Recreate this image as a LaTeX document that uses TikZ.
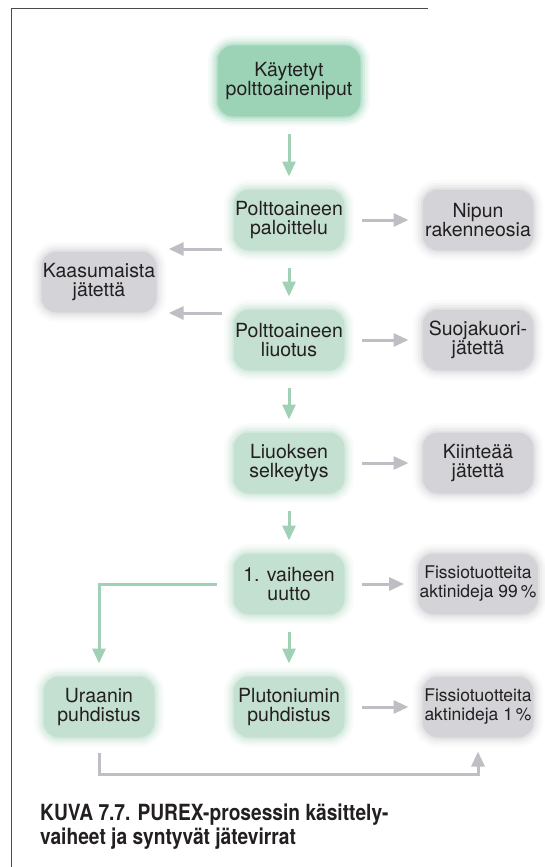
\documentclass[tikz,border=0pt]{standalone}
\usepackage{fontspec}
\setmainfont{TeX Gyre Heros}
\newfontfamily\capfont{TeX Gyre Heros}[FakeStretch=0.86]
\usetikzlibrary{arrows.meta,calc}
\definecolor{gdark}{HTML}{9CD3B7}
\definecolor{glight}{HTML}{C3E0D0}
\definecolor{gbox}{HTML}{D4D4D8}
\definecolor{garrow}{HTML}{A0D0B6}
\definecolor{grarrow}{HTML}{BEBEC4}
\definecolor{framec}{HTML}{4A4A4A}
\definecolor{txt}{HTML}{231F20}
\tikzset{
  glowbox/.style={rounded corners=14pt, minimum width=108pt, minimum height=58pt,
    align=center, inner sep=0pt, text=txt,
    font=\fontsize{19.5}{19.5}\selectfont,
    preaction={draw=#1, line width=22pt, draw opacity=0.10},
    preaction={draw=#1, line width=17pt, draw opacity=0.15},
    preaction={draw=#1, line width=12pt, draw opacity=0.25},
    preaction={draw=#1, line width=7pt, draw opacity=0.4},
    fill=#1, draw=#1, line width=3pt},
  flowg/.style={draw=garrow, line width=3pt, -{Triangle[length=15pt,width=13pt]},
    shorten <=17pt, shorten >=13pt},
  flowr/.style={draw=grarrow, line width=3pt, -{Triangle[length=15pt,width=13pt]},
    shorten <=17pt, shorten >=14pt},
  captext/.style={anchor=base west, inner sep=0pt, text=txt,
    font=\capfont\bfseries\fontsize{22.3}{25}\selectfont}
}
\begin{document}
\begin{tikzpicture}[x=1pt,y=-1pt]
\useasboundingbox (0,0) rectangle (544,867);
% frame
\draw[framec, line width=1.3pt] (428,8.5) -- (11.5,8.5) -- (11.5,867);
% nodes
\node[glowbox=gdark, minimum width=140pt, minimum height=68pt] (kay) at (289,81) {Käytetyt\\polttoaineniput};
\node[glowbox=glight] (palo) at (289,220) {Polttoaineen\\paloittelu};
\node[glowbox=gbox] (nip) at (478,220) {Nipun\\rakenneosia};
\node[glowbox=gbox] (kaas) at (99,282) {Kaasumaista\\jätettä};
\node[glowbox=glight] (liu) at (289,340) {Polttoaineen\\liuotus};
\node[glowbox=gbox] (suo) at (478,340) {Suojakuori-\\jätettä};
\node[glowbox=glight] (sel) at (289,463) {Liuoksen\\selkeytys};
\node[glowbox=gbox] (kii) at (478,463) {Kiinteää\\jätettä};
\node[glowbox=glight] (uut) at (289,584) {1. vaiheen\\uutto};
\node[glowbox=gbox, font=\fontsize{17.5}{19}\selectfont] (fis99) at (478,584) {Fissiotuotteita\\aktinideja 99\,\%};
\node[glowbox=glight] (ura) at (99,707) {Uraanin\\puhdistus};
\node[glowbox=glight] (plu) at (289,707) {Plutoniumin\\puhdistus};
\node[glowbox=gbox, font=\fontsize{17.5}{19}\selectfont] (fis1) at (478,707) {Fissiotuotteita\\aktinideja 1\,\%};
% connectors
\draw[flowg] (kay) -- (palo);
\draw[flowg] (palo) -- (liu);
\draw[flowg] (liu) -- (sel);
\draw[flowg] (sel) -- (uut);
\draw[flowg] (uut) -- (plu);
\draw[flowg] (uut.west) -| (ura.north);
\draw[flowr] (palo) -- (nip);
\draw[flowr] (liu) -- (suo);
\draw[flowr] (sel) -- (kii);
\draw[flowr] (uut) -- (fis99);
\draw[flowr] (plu) -- (fis1);
\coordinate (k1) at ($(palo.west)+(0,29)$);
\coordinate (k2) at ($(liu.west)+(0,-27)$);
\draw[flowr, shorten <=12pt, shorten >=12pt] (k1) -- (k1 -| kaas.east);
\draw[flowr, shorten <=12pt, shorten >=12pt] (k2) -- (k2 -| kaas.east);
\draw[flowr, shorten <=15pt] (ura.south) -- ++(0,37) -| (fis1.south);
% caption
\node[captext] (cap1) at (40,820) {KUVA 7.7. PUREX-prosessin käsittely-};
\node[captext] (cap2) at (40,844) {vaiheet ja syntyvät jätevirrat};
\end{tikzpicture}
\end{document}
